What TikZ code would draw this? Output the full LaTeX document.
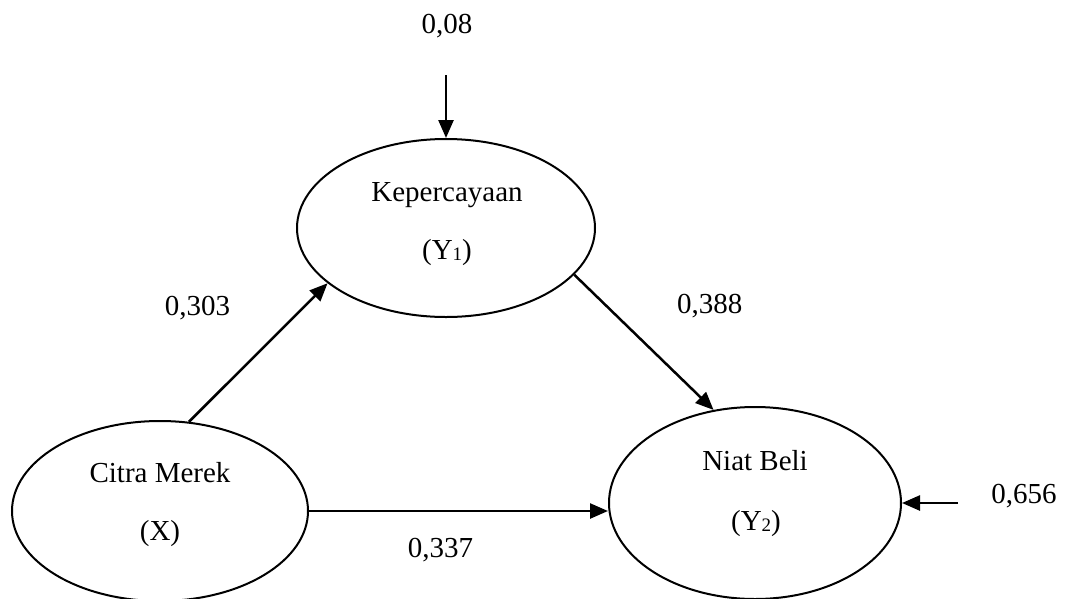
\documentclass[tikz,border=0pt]{standalone}
\usepackage{fontspec}
\setmainfont{Liberation Serif}
\usetikzlibrary{shapes.geometric,arrows.meta}
\newcommand{\subdigit}[1]{\raisebox{-0.12ex}{\fontsize{19}{19}\selectfont #1}}
\tikzset{
  latent/.style={draw=black, line width=2pt, ellipse, inner sep=0pt},
  path/.style={line width=2.5pt, -{Triangle[length=18pt,width=15pt]}},
  txt/.style={anchor=base, inner sep=0pt, font=\fontsize{29}{34}\selectfont},
}
\begin{document}
\begin{tikzpicture}[x=1pt,y=-1pt]
\useasboundingbox (0,0) rectangle (1066,598);
\begin{scope}
\clip (0,0) rectangle (1066,598);
\node[latent, minimum width=298pt, minimum height=178pt] (k) at (446,228) {};
\node[latent, minimum width=296pt, minimum height=180pt] (c) at (160,511) {};
\node[latent, minimum width=292pt, minimum height=192pt] (n) at (755,503) {};
\end{scope}
% texts inside ellipses
\node[txt] (kt1) at (447,201) {Kepercayaan};
\node[txt] (kt2) at (447,259) {(Y\subdigit{1})};
\node[txt] (ct1) at (160,482) {Citra Merek};
\node[txt] (ct2) at (160,540) {(X)};
\node[txt] (nt1) at (755,470) {Niat Beli};
\node[txt] (nt2) at (756,530) {(Y\subdigit{2})};
% error terms
\coordinate (e1) at (446,75);
\coordinate (e2) at (958,503);
\draw[path] (e1) -- (k.north);
\draw[path] (e2) -- (e2 -| n.east);
% paths
\draw[path] (c.72.5) -- (k.205.6);
\draw[path] (k.-20.5) -- (n.114.9);
\draw[path] (c.east) -- (c.east -| n.west);
% coefficients
\node[txt] (l08) at (447,33) {0,08};
\node[txt] (l303) at (197.5,315) {0,303};
\node[txt] (l388) at (709.7,313) {0,388};
\node[txt] (l337) at (440.5,557) {0,337};
\node[txt] (l656) at (1024,503) {0,656};
\end{tikzpicture}
\end{document}
